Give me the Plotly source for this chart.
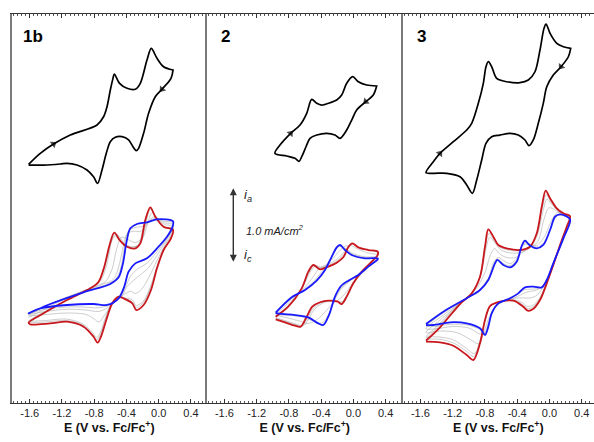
import plotly.graph_objects as go

# ---------------- data (E in V vs Fc/Fc+, i in mA/cm2, stacked offsets) -------------
# Panel 1b
E_1b_blk_fwd = [-1.614,-1.469,-1.304,-1.097,-0.765,-0.684,-0.641,-0.600,-0.567,-0.551,-0.485,-0.393,-0.290,-0.228,-0.145,-0.092,-0.021,0.061,0.178]
I_1b_blk_fwd = [1.143,1.289,1.413,1.533,1.667,1.777,1.911,2.133,2.289,2.347,2.223,2.156,2.143,2.223,2.533,2.689,2.556,2.444,2.400]
E_1b_blk_rev = [0.178,0.153,0.041,-0.042,-0.125,-0.187,-0.249,-0.278,-0.319,-0.373,-0.455,-0.538,-0.600,-0.650,-0.703,-0.758,-0.808,-0.890,-1.014,-1.138,-1.221,-1.428,-1.614]
I_1b_blk_rev = [2.400,2.289,2.143,2.044,1.823,1.556,1.356,1.324,1.377,1.467,1.511,1.503,1.444,1.289,1.067,0.889,0.977,1.067,1.133,1.156,1.147,1.133,1.133]

E_1b_red = [-1.614,-1.428,-1.138,-0.849,-0.745,-0.675,-0.609,-0.551,-0.485,-0.393,-0.290,-0.228,-0.166,-0.104,-0.042,0.061,0.178,
            0.153,0.061,-0.021,-0.095,-0.187,-0.278,-0.327,-0.435,-0.497,-0.572,-0.650,-0.716,-0.758,-0.808,-0.932,-1.138,-1.345,-1.593,-1.614]
I_1b_red = [-0.969,-0.844,-0.667,-0.511,-0.422,-0.222,0.067,0.231,0.133,0.044,0.022,0.089,0.400,0.569,0.444,0.311,0.267,
            0.156,0.0,-0.244,-0.533,-0.733,-0.800,-0.711,-0.644,-0.622,-0.702,-0.933,-1.156,-1.236,-1.156,-1.022,-0.956,-0.978,-0.991,-0.969]
E_1b_blue = [-1.614,-1.345,-0.932,-0.600,-0.497,-0.443,-0.402,-0.352,-0.269,-0.145,-0.021,0.178,
             0.165,0.103,-0.021,-0.145,-0.290,-0.373,-0.427,-0.497,-0.641,-0.808,-1.138,-1.469,-1.614]
I_1b_blue = [-0.844,-0.720,-0.564,-0.453,-0.364,-0.178,0.089,0.289,0.347,0.369,0.409,0.382,
             0.289,0.178,0.022,-0.111,-0.178,-0.289,-0.489,-0.644,-0.733,-0.720,-0.733,-0.778,-0.844]
E_1b_g0 = [-1.614,-1.42,-1.12,-0.84,-0.74,-0.66,-0.59,-0.53,-0.46,-0.36,-0.26,-0.20,-0.14,-0.10,-0.04,0.06,0.178,
           0.155,0.06,-0.02,-0.10,-0.19,-0.28,-0.33,-0.44,-0.51,-0.58,-0.66,-0.72,-0.77,-0.82,-0.94,-1.14,-1.40,-1.614]
I_1b_g0 = [-0.955,-0.83,-0.655,-0.505,-0.415,-0.20,0.11,0.22,0.11,0.04,0.06,0.25,0.48,0.56,0.44,0.31,0.28,
           0.17,0.0,-0.23,-0.50,-0.70,-0.77,-0.69,-0.64,-0.635,-0.71,-0.92,-1.12,-1.20,-1.13,-1.00,-0.94,-0.96,-0.97]
E_1b_g1 = [-1.614,-1.40,-1.10,-0.82,-0.72,-0.64,-0.57,-0.51,-0.42,-0.31,-0.22,-0.15,-0.10,-0.03,0.06,0.178,
           0.155,0.06,-0.02,-0.10,-0.19,-0.28,-0.33,-0.44,-0.52,-0.59,-0.66,-0.72,-0.77,-0.82,-0.95,-1.15,-1.40,-1.614]
I_1b_g1 = [-0.94,-0.81,-0.64,-0.50,-0.41,-0.18,0.15,0.20,0.08,0.04,0.10,0.40,0.55,0.43,0.31,0.29,
           0.18,0.0,-0.22,-0.48,-0.68,-0.74,-0.66,-0.64,-0.65,-0.72,-0.90,-1.09,-1.17,-1.10,-0.98,-0.92,-0.94,-0.95]
E_1b_g2 = [-1.614,-1.40,-1.10,-0.80,-0.66,-0.58,-0.52,-0.46,-0.38,-0.29,-0.20,-0.13,-0.08,-0.02,0.07,0.178,
           0.16,0.08,-0.02,-0.12,-0.21,-0.29,-0.35,-0.44,-0.52,-0.60,-0.68,-0.74,-0.80,-0.90,-1.14,-1.40,-1.614]
I_1b_g2 = [-0.90,-0.78,-0.62,-0.49,-0.42,-0.26,0.02,0.17,0.14,0.10,0.16,0.38,0.50,0.43,0.34,0.32,
           0.22,0.07,-0.14,-0.36,-0.52,-0.58,-0.55,-0.60,-0.66,-0.76,-0.88,-0.96,-0.92,-0.86,-0.84,-0.86,-0.88]
E_1b_g3 = [-1.614,-1.40,-1.05,-0.70,-0.56,-0.49,-0.44,-0.39,-0.31,-0.22,-0.13,-0.07,-0.01,0.07,0.178,
           0.16,0.09,-0.02,-0.13,-0.25,-0.33,-0.40,-0.46,-0.55,-0.65,-0.75,-0.90,-1.14,-1.40,-1.614]
I_1b_g3 = [-0.87,-0.75,-0.59,-0.46,-0.39,-0.20,0.05,0.22,0.25,0.25,0.36,0.44,0.42,0.36,0.35,
           0.25,0.12,-0.07,-0.24,-0.35,-0.42,-0.50,-0.62,-0.70,-0.78,-0.82,-0.80,-0.79,-0.82,-0.86]
E_1b_g4 = [-1.614,-1.38,-0.98,-0.64,-0.52,-0.46,-0.42,-0.37,-0.29,-0.18,-0.10,-0.02,0.07,0.178,
           0.165,0.10,-0.02,-0.14,-0.27,-0.35,-0.41,-0.48,-0.60,-0.75,-0.95,-1.14,-1.45,-1.614]
I_1b_g4 = [-0.855,-0.735,-0.575,-0.455,-0.375,-0.19,0.07,0.26,0.30,0.32,0.40,0.42,0.38,0.37,
           0.27,0.15,-0.02,-0.17,-0.26,-0.35,-0.49,-0.63,-0.73,-0.77,-0.76,-0.76,-0.80,-0.85]

# Panel 2
E_2_blk_fwd = [-0.973,-0.911,-0.778,-0.662,-0.579,-0.517,-0.455,-0.393,-0.290,-0.207,-0.145,-0.083,-0.009,0.061,0.165,0.289]
I_2_blk_fwd = [1.289,1.400,1.556,1.667,1.823,2.009,1.956,1.933,1.964,2.000,2.067,2.223,2.311,2.244,2.200,2.187]
E_2_blk_rev = [0.289,0.247,0.153,0.041,-0.021,-0.083,-0.166,-0.228,-0.331,-0.455,-0.538,-0.588,-0.641,-0.675,-0.724,-0.827,-0.973]
I_2_blk_rev = [2.187,2.067,1.977,1.867,1.733,1.600,1.489,1.533,1.556,1.533,1.489,1.377,1.244,1.182,1.223,1.253,1.289]

E_2_red = [-0.964,-0.808,-0.641,-0.559,-0.497,-0.414,-0.311,-0.207,-0.125,-0.063,-0.013,0.061,0.185,0.302,
           0.302,0.227,0.103,-0.001,-0.083,-0.145,-0.195,-0.311,-0.414,-0.510,-0.579,-0.654,-0.724,-0.849,-0.964]
I_2_red = [-0.889,-0.756,-0.511,-0.289,-0.200,-0.257,-0.222,-0.169,-0.097,0.036,0.089,0.036,0.0,-0.022,
           -0.067,-0.156,-0.289,-0.444,-0.622,-0.720,-0.689,-0.676,-0.697,-0.756,-0.889,-1.022,-1.009,-0.964,-0.924]
E_2_blue = [-0.964,-0.765,-0.600,-0.455,-0.352,-0.278,-0.207,-0.166,-0.104,-0.021,0.144,0.302,
            0.302,0.185,0.061,-0.063,-0.154,-0.228,-0.303,-0.373,-0.435,-0.559,-0.724,-0.890,-0.964]
I_2_blue = [-0.836,-0.631,-0.533,-0.409,-0.267,-0.111,0.036,0.067,0.0,-0.067,-0.111,-0.111,
            -0.124,-0.222,-0.333,-0.409,-0.480,-0.622,-0.867,-1.000,-0.978,-0.898,-0.867,-0.853,-0.840]
E_2_g0 = [-0.964,-0.80,-0.64,-0.55,-0.49,-0.41,-0.30,-0.20,-0.12,-0.06,-0.01,0.06,0.18,0.302,
          0.23,0.10,0.0,-0.08,-0.145,-0.20,-0.31,-0.41,-0.50,-0.57,-0.64,-0.71,-0.85,-0.964]
I_2_g0 = [-0.885,-0.745,-0.505,-0.295,-0.205,-0.245,-0.20,-0.145,-0.06,0.05,0.085,0.035,0.0,-0.03,
          -0.16,-0.30,-0.45,-0.61,-0.705,-0.685,-0.68,-0.71,-0.78,-0.91,-1.02,-1.00,-0.95,-0.91]
E_2_g1 = [-0.964,-0.80,-0.63,-0.54,-0.47,-0.39,-0.29,-0.20,-0.11,-0.05,0.0,0.07,0.18,0.302,
          0.23,0.10,0.0,-0.08,-0.14,-0.21,-0.30,-0.40,-0.49,-0.56,-0.62,-0.70,-0.85,-0.964]
I_2_g1 = [-0.88,-0.73,-0.50,-0.30,-0.21,-0.23,-0.18,-0.12,-0.02,0.07,0.08,0.03,0.0,-0.04,
          -0.17,-0.31,-0.45,-0.60,-0.69,-0.68,-0.68,-0.72,-0.80,-0.93,-1.01,-0.99,-0.94,-0.90]
E_2_g2 = [-0.964,-0.79,-0.62,-0.50,-0.42,-0.34,-0.26,-0.18,-0.10,-0.03,0.06,0.18,0.302,
          0.22,0.10,-0.01,-0.10,-0.18,-0.26,-0.33,-0.42,-0.50,-0.58,-0.66,-0.80,-0.964]
I_2_g2 = [-0.86,-0.69,-0.52,-0.36,-0.24,-0.20,-0.12,-0.02,0.05,0.06,0.01,-0.04,-0.07,
          -0.20,-0.32,-0.44,-0.58,-0.66,-0.72,-0.80,-0.90,-0.96,-0.98,-0.95,-0.91,-0.87]
E_2_g3 = [-0.964,-0.78,-0.61,-0.47,-0.38,-0.30,-0.22,-0.17,-0.10,-0.02,0.14,0.302,
          0.19,0.06,-0.06,-0.15,-0.22,-0.29,-0.36,-0.43,-0.52,-0.64,-0.80,-0.964]
I_2_g3 = [-0.85,-0.66,-0.53,-0.39,-0.27,-0.14,0.00,0.05,0.02,-0.04,-0.09,-0.10,
          -0.21,-0.33,-0.43,-0.52,-0.64,-0.82,-0.95,-0.98,-0.94,-0.89,-0.87,-0.85]
E_2_g4 = [-0.964,-0.77,-0.60,-0.46,-0.36,-0.28,-0.21,-0.17,-0.10,-0.02,0.14,0.302,
          0.19,0.06,-0.06,-0.15,-0.23,-0.30,-0.37,-0.44,-0.55,-0.70,-0.88,-0.964]
I_2_g4 = [-0.84,-0.64,-0.53,-0.40,-0.27,-0.12,0.03,0.06,0.01,-0.055,-0.10,-0.11,
          -0.22,-0.33,-0.42,-0.50,-0.63,-0.85,-0.99,-0.98,-0.91,-0.87,-0.855,-0.845]

# Panel 3
E_3_blk_fwd = [-1.531,-1.440,-1.357,-1.192,-1.026,-0.964,-0.882,-0.820,-0.787,-0.758,-0.716,-0.654,-0.530,-0.365,-0.262,-0.179,-0.117,-0.067,-0.042,0.008,0.091,0.173,0.264]
I_3_blk_fwd = [1.031,1.178,1.289,1.444,1.600,1.689,1.956,2.223,2.444,2.511,2.444,2.289,2.244,2.231,2.267,2.377,2.667,2.956,3.013,2.889,2.756,2.711,2.689]
E_3_blk_rev = [0.264,0.235,0.144,0.048,-0.033,-0.076,-0.138,-0.200,-0.253,-0.303,-0.386,-0.489,-0.613,-0.716,-0.787,-0.840,-0.902,-0.956,-1.026,-1.109,-1.274,-1.440,-1.531]
I_3_blk_rev = [2.689,2.577,2.444,2.333,2.177,1.956,1.689,1.467,1.391,1.467,1.533,1.556,1.533,1.511,1.423,1.200,0.933,0.756,0.867,0.977,1.023,1.023,1.031]

E_3_red = [-1.531,-1.357,-1.109,-0.964,-0.861,-0.799,-0.758,-0.696,-0.634,-0.530,-0.365,-0.241,-0.157,-0.095,-0.046,0.008,0.091,0.173,0.256,
           0.215,0.132,0.048,-0.033,-0.117,-0.207,-0.269,-0.324,-0.448,-0.613,-0.737,-0.799,-0.861,-0.944,-1.026,-1.192,-1.357,-1.531]
I_3_red = [-1.209,-1.031,-0.720,-0.578,-0.356,0.044,0.276,0.178,0.067,0.022,0.0,0.044,0.223,0.577,0.791,0.689,0.556,0.489,0.453,
           0.311,0.067,-0.200,-0.444,-0.667,-0.791,-0.809,-0.756,-0.676,-0.689,-0.747,-0.933,-1.244,-1.467,-1.400,-1.276,-1.231,-1.222]
E_3_blue = [-1.531,-1.316,-1.026,-0.861,-0.758,-0.675,-0.646,-0.572,-0.489,-0.406,-0.344,-0.303,-0.249,-0.157,-0.076,0.008,0.070,0.132,0.256,
            0.173,0.048,-0.033,-0.095,-0.200,-0.303,-0.386,-0.489,-0.634,-0.716,-0.758,-0.799,-0.861,-1.026,-1.233,-1.440,-1.531]
I_3_blue = [-0.987,-0.822,-0.644,-0.533,-0.400,-0.178,-0.133,-0.200,-0.231,-0.156,0.053,0.124,0.067,0.022,0.067,0.267,0.444,0.476,0.409,
            0.156,-0.178,-0.400,-0.498,-0.489,-0.498,-0.578,-0.644,-0.711,-0.844,-1.022,-1.133,-1.044,-0.978,-0.964,-1.000,-1.000]
E_3_g0 = [-1.531,-1.36,-1.11,-0.96,-0.86,-0.80,-0.75,-0.69,-0.62,-0.51,-0.36,-0.24,-0.155,-0.09,-0.04,0.01,0.09,0.17,0.256,
          0.21,0.13,0.045,-0.035,-0.12,-0.21,-0.27,-0.33,-0.45,-0.61,-0.735,-0.80,-0.86,-0.94,-1.03,-1.19,-1.36,-1.531]
I_3_g0 = [-1.18,-1.00,-0.71,-0.57,-0.345,0.02,0.22,0.14,0.04,0.0,-0.01,0.04,0.21,0.55,0.74,0.66,0.54,0.48,0.445,
          0.30,0.055,-0.21,-0.445,-0.655,-0.765,-0.78,-0.73,-0.67,-0.69,-0.75,-0.94,-1.22,-1.42,-1.35,-1.24,-1.19,-1.19]
E_3_g1 = [-1.531,-1.36,-1.11,-0.95,-0.85,-0.79,-0.74,-0.68,-0.60,-0.48,-0.35,-0.24,-0.15,-0.08,-0.03,0.02,0.10,0.18,0.256,
          0.21,0.13,0.04,-0.04,-0.12,-0.21,-0.28,-0.34,-0.46,-0.61,-0.73,-0.80,-0.86,-0.93,-1.03,-1.19,-1.36,-1.531]
I_3_g1 = [-1.15,-0.98,-0.70,-0.56,-0.33,0.00,0.17,0.10,0.00,-0.04,-0.03,0.03,0.20,0.52,0.68,0.62,0.53,0.47,0.44,
          0.29,0.04,-0.22,-0.45,-0.64,-0.74,-0.75,-0.70,-0.66,-0.69,-0.75,-0.95,-1.20,-1.38,-1.31,-1.20,-1.16,-1.16]
E_3_g2 = [-1.531,-1.34,-1.07,-0.91,-0.80,-0.73,-0.68,-0.62,-0.53,-0.42,-0.32,-0.24,-0.15,-0.07,-0.01,0.05,0.13,0.256,
          0.20,0.11,0.02,-0.06,-0.15,-0.24,-0.32,-0.42,-0.56,-0.68,-0.76,-0.82,-0.88,-0.97,-1.15,-1.35,-1.531]
I_3_g2 = [-1.10,-0.92,-0.68,-0.52,-0.30,-0.06,0.02,-0.05,-0.10,-0.10,-0.02,0.04,0.10,0.40,0.56,0.55,0.49,0.43,
          0.25,0.0,-0.27,-0.46,-0.60,-0.64,-0.64,-0.64,-0.68,-0.76,-0.93,-1.12,-1.25,-1.20,-1.10,-1.08,-1.10]
E_3_g3 = [-1.531,-1.32,-1.05,-0.88,-0.76,-0.69,-0.63,-0.56,-0.48,-0.40,-0.33,-0.26,-0.16,-0.06,0.02,0.10,0.17,0.256,
          0.19,0.09,0.0,-0.08,-0.18,-0.28,-0.36,-0.46,-0.60,-0.70,-0.76,-0.80,-0.86,-1.00,-1.20,-1.40,-1.531]
I_3_g3 = [-1.05,-0.87,-0.66,-0.54,-0.38,-0.16,-0.10,-0.15,-0.18,-0.10,0.06,0.08,0.06,0.18,0.38,0.50,0.48,0.42,
          0.20,-0.08,-0.33,-0.48,-0.54,-0.56,-0.60,-0.65,-0.70,-0.80,-0.98,-1.10,-1.12,-1.04,-1.02,-1.05,-1.05]
E_3_g4 = [-1.531,-1.32,-1.04,-0.87,-0.76,-0.68,-0.645,-0.57,-0.49,-0.40,-0.34,-0.29,-0.23,-0.14,-0.05,0.03,0.10,0.17,0.256,
          0.18,0.05,-0.03,-0.10,-0.20,-0.31,-0.40,-0.50,-0.64,-0.72,-0.76,-0.80,-0.86,-1.02,-1.22,-1.43,-1.531]
I_3_g4 = [-1.01,-0.84,-0.65,-0.535,-0.39,-0.17,-0.12,-0.18,-0.21,-0.13,0.06,0.10,0.07,0.04,0.13,0.33,0.46,0.46,0.41,
          0.17,-0.16,-0.38,-0.50,-0.52,-0.53,-0.59,-0.66,-0.72,-0.86,-1.03,-1.12,-1.06,-1.00,-0.99,-1.02,-1.02]

PANEL_LABELS = ["1b", "2", "3"]
TICK_VALS = [-1.6, -1.2, -0.8, -0.4, 0.0, 0.4]
TICK_TEXT = ["-1.6", "-1.2", "-0.8", "-0.4", "0.0", "0.4"]
X_TITLE = "E (V vs. Fc/Fc<sup>+</sup>)"
SCALE_E = -1.49          # position of the current scale bar (panel 2)
SCALE_TOP = 0.823
SCALE_LEN = 1.0          # mA/cm2
SCALE_TEXT = "1.0 mA/cm<sup>2</sup>"

# ---------------------------------------------------------------------------
fig = go.Figure()

panels = [
    dict(ax="", blk=(E_1b_blk_fwd, I_1b_blk_fwd, E_1b_blk_rev, I_1b_blk_rev),
         red=(E_1b_red, I_1b_red), blue=(E_1b_blue, I_1b_blue),
         grays=[(E_1b_g0, I_1b_g0), (E_1b_g1, I_1b_g1), (E_1b_g2, I_1b_g2), (E_1b_g3, I_1b_g3), (E_1b_g4, I_1b_g4)]),
    dict(ax="2", blk=(E_2_blk_fwd, I_2_blk_fwd, E_2_blk_rev, I_2_blk_rev),
         red=(E_2_red, I_2_red), blue=(E_2_blue, I_2_blue),
         grays=[(E_2_g0, I_2_g0), (E_2_g1, I_2_g1), (E_2_g2, I_2_g2), (E_2_g3, I_2_g3), (E_2_g4, I_2_g4)]),
    dict(ax="3", blk=(E_3_blk_fwd, I_3_blk_fwd, E_3_blk_rev, I_3_blk_rev),
         red=(E_3_red, I_3_red), blue=(E_3_blue, I_3_blue),
         grays=[(E_3_g0, I_3_g0), (E_3_g1, I_3_g1), (E_3_g2, I_3_g2), (E_3_g3, I_3_g3), (E_3_g4, I_3_g4)]),
]

SM = 0.9
for p in panels:
    xa, ya = "x" + p["ax"], "y" + p["ax"]
    for gx, gy in p["grays"]:
        fig.add_trace(go.Scatter(x=gx, y=gy, mode="lines", xaxis=xa, yaxis=ya,
                                 line=dict(color="#ababab", width=0.6, shape="spline", smoothing=SM)))
    fig.add_trace(go.Scatter(x=p["red"][0], y=p["red"][1], mode="lines", xaxis=xa, yaxis=ya,
                             line=dict(color="#c8171d", width=1.8, shape="spline", smoothing=SM)))
    fig.add_trace(go.Scatter(x=p["blue"][0], y=p["blue"][1], mode="lines", xaxis=xa, yaxis=ya,
                             line=dict(color="#1a1aff", width=1.8, shape="spline", smoothing=SM)))
    fx, fy, rx, ry = p["blk"]
    fig.add_trace(go.Scatter(x=fx + rx, y=fy + ry, mode="lines", xaxis=xa, yaxis=ya,
                             line=dict(color="black", width=1.7, shape="spline", smoothing=SM)))
    # direction arrows
    for sx, sy in ((fx, fy), (rx, ry)):
        fig.add_trace(go.Scatter(x=[sx[1], sx[2]], y=[sy[1], sy[2]], mode="markers",
                                 xaxis=xa, yaxis=ya,
                                 marker=dict(symbol="triangle-up", size=[0, 7], color="black",
                                             angleref="previous", line=dict(width=0))))

L_MARGIN = 12
W = 594
PW = W - L_MARGIN
doms = [(0, (206.7 - L_MARGIN) / PW), ((206.7 - L_MARGIN) / PW, (402.7 - L_MARGIN) / PW),
        ((402.7 - L_MARGIN) / PW, 1.0)]
ranges = [[-1.82, 0.596], [-1.82, 0.612], [-1.82, 0.553]]

layout = dict(
    width=594, height=442, margin=dict(l=L_MARGIN, r=0, t=14, b=39),
    paper_bgcolor="white", plot_bgcolor="white", showlegend=False,
    font=dict(family="Liberation Sans, Arial, sans-serif", color="#222", size=11),
)
for i, suf in enumerate(["", "2", "3"]):
    layout["xaxis" + suf] = dict(
        domain=list(doms[i]), range=ranges[i], anchor="y" + suf,
        showline=True, linecolor="#333", linewidth=1, mirror="ticks",
        ticks="inside", ticklen=4, tickwidth=1, tickcolor="#333",
        tickvals=TICK_VALS, ticktext=TICK_TEXT, tickfont=dict(size=11, color="#222"),
        minor=dict(ticks="inside", ticklen=2, dtick=0.05, tick0=0, tickcolor="#555", showgrid=False),
        showgrid=False, zeroline=False, fixedrange=True, automargin=False,
        title=dict(text="<b>" + X_TITLE + "</b>", font=dict(size=12.5, color="#111"), standoff=4),
    )
    layout["yaxis" + suf] = dict(
        domain=[0, 1], range=[-2.04, 3.147], anchor="x" + suf,
        showline=True, linecolor="#7a7a7a", linewidth=1.5, mirror=False,
        ticks="", showticklabels=False, showgrid=False, zeroline=False, automargin=False,
    )
fig.update_layout(**layout)

# panel labels
for i, lab in enumerate(PANEL_LABELS):
    xr = "x" + ("" if i == 0 else str(i + 1))
    fig.add_annotation(x=-1.71 if i == 0 else -1.67, y=2.85, xref=xr, yref="y" + ("" if i == 0 else str(i + 1)),
                       text="<b>" + lab + "</b>", showarrow=False, xanchor="left",
                       font=dict(size=17, color="black"))

# current scale bar in panel 2
fig.add_annotation(x=SCALE_E, y=SCALE_TOP, ax=SCALE_E, ay=SCALE_TOP - SCALE_LEN,
                   xref="x2", yref="y2", axref="x2", ayref="y2", text="",
                   showarrow=True, arrowhead=2, arrowside="end+start", arrowsize=1,
                   arrowwidth=1.4, arrowcolor="#333")
fig.add_annotation(x=SCALE_E + 0.11, y=SCALE_TOP - 0.09, xref="x2", yref="y2", xanchor="left",
                   text="<i>i</i><sub><i>a</i></sub>", showarrow=False, font=dict(size=13, color="#222"))
fig.add_annotation(x=SCALE_E + 0.13, y=SCALE_TOP - SCALE_LEN / 2 - 0.06, xref="x2", yref="y2", xanchor="left",
                   text="<i>" + SCALE_TEXT + "</i>", showarrow=False, font=dict(size=11, color="#222"))
fig.add_annotation(x=SCALE_E + 0.11, y=SCALE_TOP - SCALE_LEN + 0.1, xref="x2", yref="y2", xanchor="left",
                   text="<i>i</i><sub><i>c</i></sub>", showarrow=False, font=dict(size=13, color="#222"))

fig.write_html("out.html")
